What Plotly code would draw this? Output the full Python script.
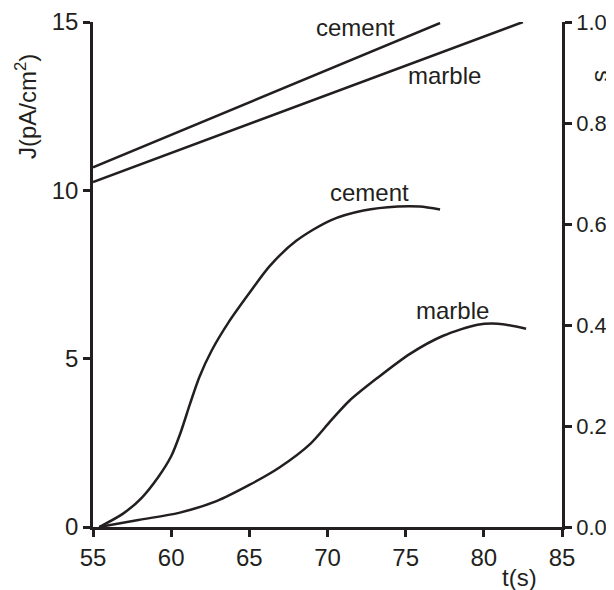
import plotly.graph_objects as go

# Data
t_cement_J = [55.4, 56.9, 58.1, 59.2, 60.0, 60.6, 61.2, 61.8, 62.6, 63.7, 65.0, 66.3, 68.0, 70.2, 72.3, 74.5, 75.9, 77.2]
J_cement = [0.0, 0.39, 0.86, 1.50, 2.10, 2.80, 3.65, 4.45, 5.25, 6.10, 6.95, 7.75, 8.50, 9.11, 9.40, 9.52, 9.52, 9.43]

t_marble_J = [55.4, 57.9, 60.5, 62.9, 65.0, 66.9, 68.9, 70.2, 71.4, 73.2, 75.3, 77.4, 79.6, 80.9, 82.7]
J_marble = [0.0, 0.21, 0.42, 0.77, 1.25, 1.76, 2.47, 3.15, 3.75, 4.43, 5.15, 5.68, 6.01, 6.04, 5.89]

t_cement_s = [55.0, 77.2]
s_cement = [0.712, 0.998]
t_marble_s = [55.0, 82.5]
s_marble = [0.683, 1.0]

x_ticks = [55, 60, 65, 70, 75, 80, 85]
J_ticks = [0, 5, 10, 15]
s_ticks = [0.0, 0.2, 0.4, 0.6, 0.8, 1.0]

INK = "#231f20"
FONT = "Liberation Sans, Arial, sans-serif"
FS = 24

fig = go.Figure()
line = dict(color=INK, width=2.5, shape="spline", smoothing=0.8)
fig.add_trace(go.Scatter(x=t_cement_J, y=J_cement, mode="lines", line=line, yaxis="y"))
fig.add_trace(go.Scatter(x=t_marble_J, y=J_marble, mode="lines", line=line, yaxis="y"))
fig.add_trace(go.Scatter(x=t_cement_s, y=s_cement, mode="lines", line=dict(color=INK, width=2.5), yaxis="y2"))
fig.add_trace(go.Scatter(x=t_marble_s, y=s_marble, mode="lines", line=dict(color=INK, width=2.5), yaxis="y2"))

axis_common = dict(showgrid=False, zeroline=False, automargin=False,
                   showline=True, linecolor=INK, linewidth=2.5,
                   ticks="outside", ticklen=7, tickwidth=2.5, tickcolor=INK)

# page body has an 8px margin, so the figure is sized/placed to compensate
W, H = 606, 582
L, T = 85, 14
PW, PH = 469, 505
fig.update_layout(
    width=W, height=H,
    margin=dict(l=L, r=W - L - PW, t=T, b=H - T - PH),
    paper_bgcolor="white", plot_bgcolor="white",
    showlegend=False,
    font=dict(family=FONT, size=FS, color=INK),
    xaxis=dict(range=[55, 85], tickvals=x_ticks,
               tickfont=dict(size=FS, family=FONT, color=INK), **axis_common),
    yaxis=dict(range=[0, 15], tickvals=J_ticks,
               tickfont=dict(size=FS, family=FONT, color=INK), **axis_common),
    yaxis2=dict(range=[0, 1], tickvals=s_ticks, tickformat=".1f", overlaying="y", side="right",
                tickfont=dict(size=22, family=FONT, color=INK), **axis_common),
)

ann = dict(showarrow=False, xanchor="center", yanchor="middle",
           font=dict(family=FONT, size=FS, color=INK))
fig.add_annotation(x=71.8, y=14.85, xref="x", yref="y", text="cement", **ann)
fig.add_annotation(x=77.5, y=13.4, xref="x", yref="y", text="marble", **ann)
fig.add_annotation(x=72.7, y=9.94, xref="x", yref="y", text="cement", **ann)
fig.add_annotation(x=78.0, y=6.43, xref="x", yref="y", text="marble", **ann)
fig.add_annotation(x=(519 - 93) / PW, y=-(577 - 527) / PH, xref="paper", yref="paper",
                   text="t(s)", **ann)
fig.add_annotation(x=(26 - 93) / PW, y=(527 - 107) / PH, xref="paper", yref="paper",
                   text="J(pA/cm<sup>2</sup>)", textangle=-90, **ann)
fig.add_annotation(x=(604 - 93) / PW, y=(527 - 76) / PH, xref="paper", yref="paper",
                   text="s", textangle=90, **ann)

fig.write_html("out.html")
